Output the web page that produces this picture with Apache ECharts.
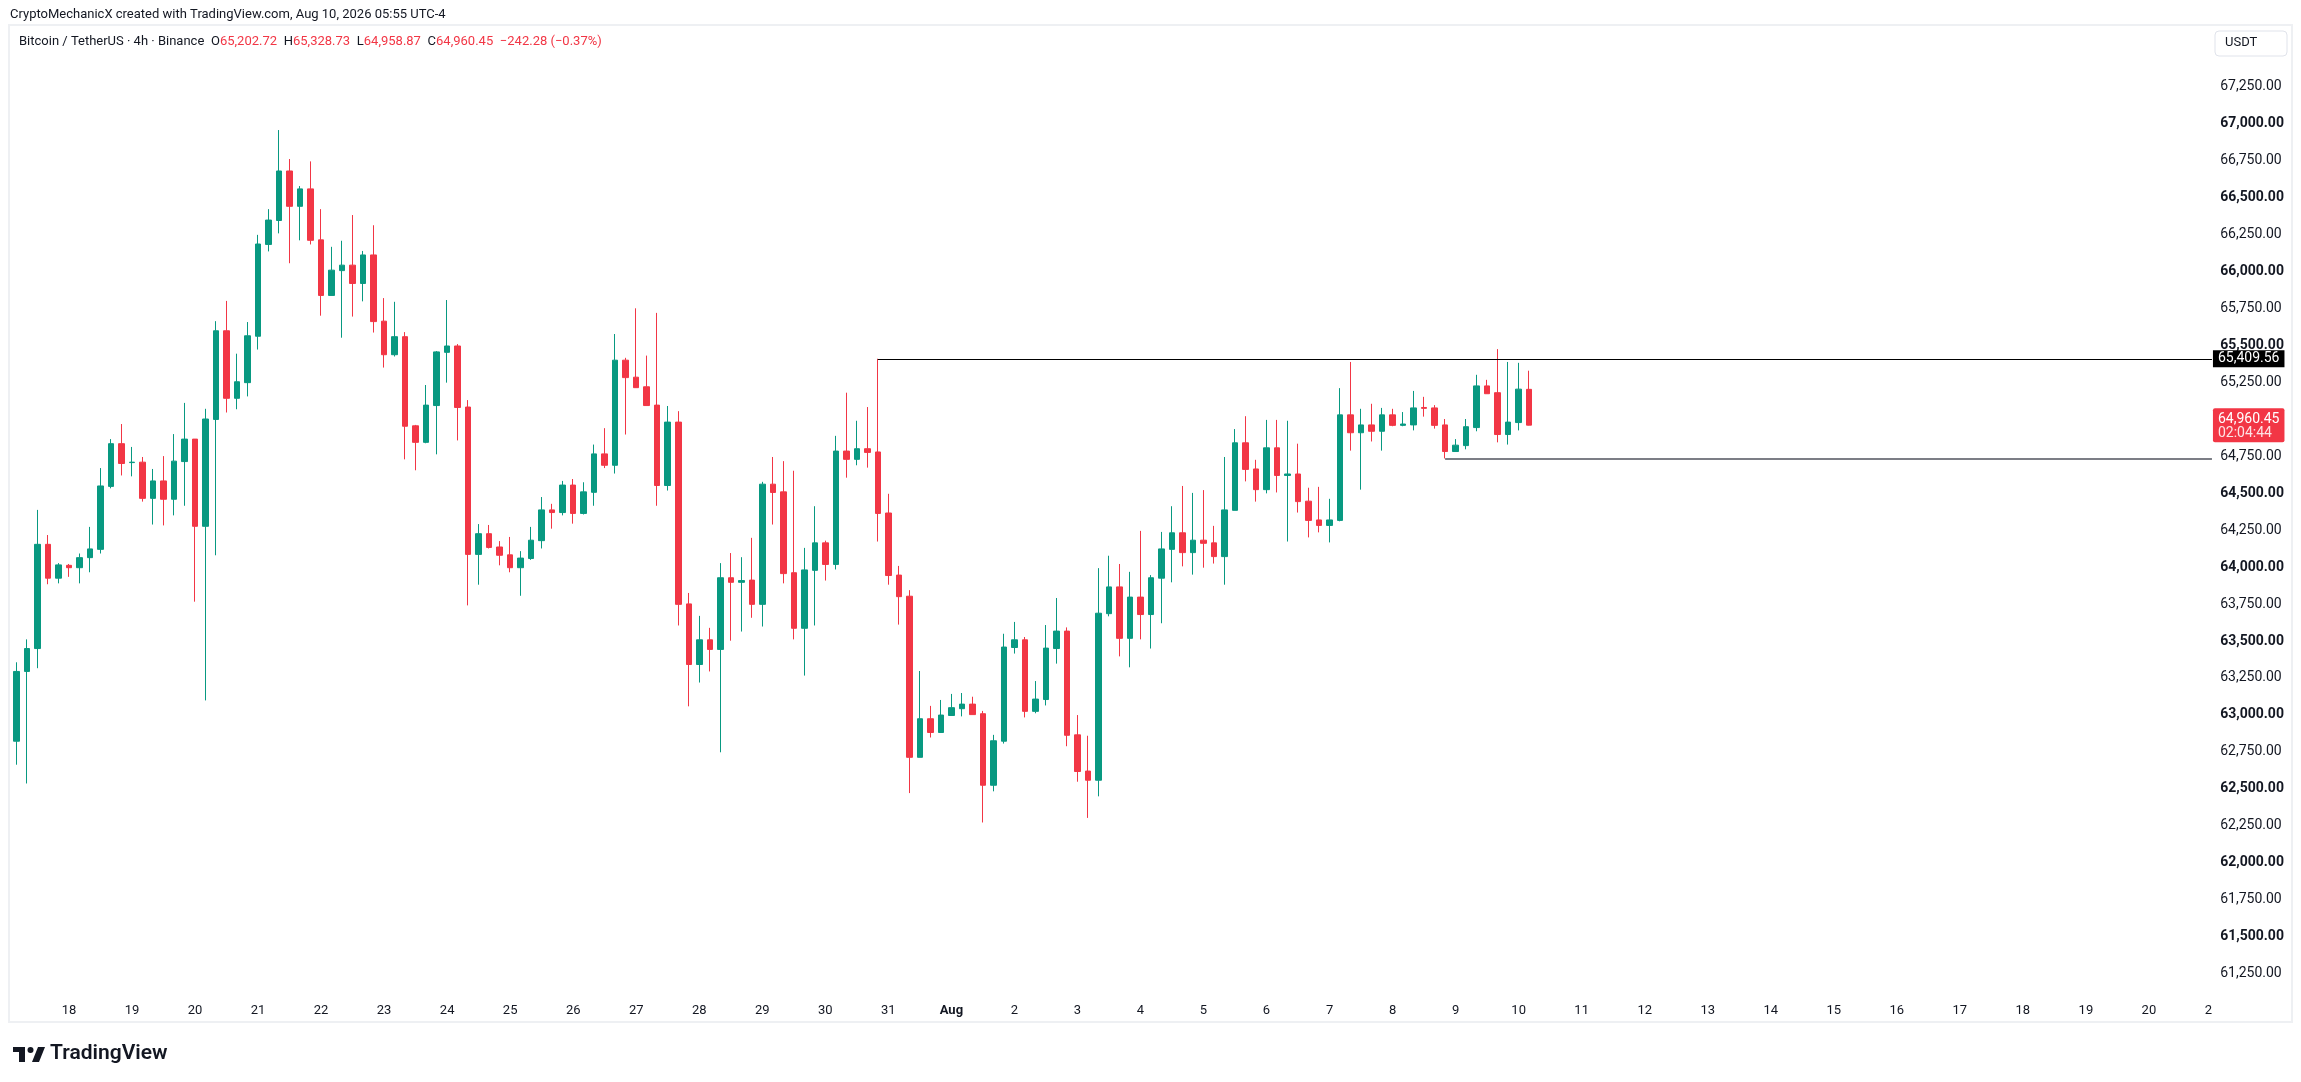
<!DOCTYPE html>
<html><head><meta charset="utf-8">
<script src="https://cdn.jsdelivr.net/npm/echarts@6/dist/echarts.min.js"></script>
<style>html,body{margin:0;padding:0;background:#fff}#c{width:2301px;height:1082px}</style>
</head><body><div id="c"></div>
<script>
// ---- time slots (4h candles, UTC-4) ----
const julyDays = [17,18,19,20,21,22,23,24,25,26,27,28,29,30,31];
const augDays = [1,2,3,4,5,6,7,8,9,10,11,12,13,14,15,16,17,18,19,20,21];
const hours = ['00:00','04:00','08:00','12:00','16:00','20:00'];

// ---- OHLC values (Jul 17 04:00 .. Aug 10 04:00) ----
const opens = [62822,63294,63449,64154,63925,64012,63996,64064,64120,64546,64835,64707,64710,64465,64583,64459,64714,64866,64276,64999,65599,65142,65248,65562,66183,66345,66680,66441,66559,66214,65838,66006,66043,65919,66112,65664,65437,65559,64956,64844,65093,65453,65496,65083,64086,64226,64136,64083,63996,64058,64179,64387,64369,64555,64363,64506,64766,64689,65400,65285,65220,65096,64552,64981,63751,63341,63508,63443,63928,63897,63912,63748,64561,64509,63962,63586,63978,64164,64018,64785,64729,64801,64779,64366,63946,63803,62713,62974,62881,62996,63042,63073,63008,62524,62822,63456,63508,63024,63104,63449,63567,62865,62620,62558,63685,63866,63518,63797,63679,63925,64120,64232,64098,64182,64164,64071,64384,64841,64664,64524,64807,64620,64630,64446,64319,64282,64316,65030,64909,64962,64919,65030,64959,64962,65080,65077,64962,64782,64822,64944,65226,65180,64897,64978,65202.72];
const closes = [63294,63449,64154,63925,64015,63996,64064,64123,64549,64835,64701,64710,64465,64583,64459,64717,64866,64276,65002,65599,65142,65254,65565,66186,66348,66680,66441,66559,66211,65838,66009,66043,65919,66112,65661,65437,65559,64953,64844,65096,65456,65496,65080,64086,64226,64133,64080,63996,64061,64182,64387,64369,64555,64363,64509,64766,64689,65400,65282,65214,65093,64552,64981,63748,63341,63508,63443,63928,63897,63909,63748,64561,64505,63956,63586,63981,64164,64018,64785,64729,64801,64776,64363,63943,63800,62713,62974,62881,62999,63049,63073,63002,62524,62825,63459,63508,63024,63107,63452,63567,62862,62617,62558,63688,63866,63518,63797,63679,63928,64123,64232,64098,64182,64161,64071,64387,64841,64661,64524,64807,64620,64630,64443,64316,64282,64319,65030,64909,64962,64919,65030,64959,64968,65077,65074,64959,64782,64825,64950,65226,65173,64897,64981,65204,64960.45];
const lows = [62663,62536,63316,63884,63890,63934,63890,63965,64092,64533,64620,64614,64443,64288,64282,64350,64415,63766,63098,64080,65046,65068,65155,65472,66136,66258,66056,66211,66183,65701,65838,65552,65695,65798,65587,65350,65425,64729,64655,64838,64763,65248,64857,63741,63881,64126,64012,63965,63806,64049,64126,64260,64350,64294,64356,64415,64670,64633,64897,65214,65093,64415,64518,63605,63058,63219,63294,62747,63502,63564,63657,63598,64288,63890,63511,63266,63605,63909,63984,64605,64689,64673,64173,63881,63611,62471,62713,62847,62881,62996,62990,63002,62272,62483,62806,63415,62983,63011,63064,63347,62788,62548,62303,62449,63667,63396,63322,63511,63449,63620,63897,64005,63949,63996,64024,63881,64384,64580,64443,64499,64505,64173,64369,64201,64235,64167,64310,64788,64524,64850,64788,64953,64953,64925,65018,64937,64735,64782,64797,64919,65173,64844,64829,64925,64958.87];
const highs = [63356,63511,64387,64217,64027,64021,64092,64272,64670,64866,64968,64813,64745,64664,64751,64900,65111,64866,65071,65664,65801,65444,65658,66248,66422,66957,66761,66578,66745,66422,66167,66208,66382,66139,66313,65820,65795,65590,64962,65232,65462,65807,65509,65130,64291,64285,64176,64204,64108,64272,64474,64428,64583,64596,64574,64829,64940,65577,65416,65751,65431,65720,65090,65055,63825,63670,63589,64027,64095,64067,64198,64577,64745,64717,64652,64130,64412,64179,64888,65180,64990,65083,65409.56,64496,64008,63844,63297,63061,63101,63142,63148,63123,63027,62865,63549,63629,63527,63229,63608,63791,63592,62999,62859,63993,64077,64021,63968,64245,63946,64238,64412,64549,64502,64521,64279,64745,64934,65021,64726,64996,64996,64990,64835,64537,64543,64462,65211,65388,65071,65105,65077,65071,65049,65192,65152,65096,65002,64866,65002,65301,65267,65475,65388,65382,65328.73];

// ---- drawn levels ----
const resistance = { startIndex: 82, price: 65409.56 };
const support = { startIndex: 136, price: 64735 };
const lastPrice = { index: 144, price: 64960.45, countdown: '02:04:44' };

// ---- y-axis ticks ----
const yMin = 61000, yMax = 67500, yStep = 250;

const UP = '#089981', DOWN = '#f23645', INK = '#131722';
const FONT = 'Roboto, "Liberation Sans", Arial, sans-serif';

const categories = [];
julyDays.forEach(d => hours.forEach(h => categories.push('Jul ' + d + ' ' + h)));
augDays.forEach(d => hours.forEach(h => categories.push('Aug ' + d + ' ' + h)));
categories.shift();                       // series starts Jul 17 04:00
categories.splice(categories.indexOf('Aug 21 00:00') + 1); // time scale ends at Aug 21

const ohlc = opens.map((o, i) => [o, closes[i], lows[i], highs[i]]);
const lastCat = categories[categories.length - 1];

function fmt(v) {
  return v.toLocaleString('en-US', { minimumFractionDigits: 2, maximumFractionDigits: 2 });
}

const chart = echarts.init(document.getElementById('c'), null, { renderer: 'canvas' });
chart.setOption({
  animation: false,
  backgroundColor: '#ffffff',
  textStyle: { fontFamily: FONT },
  grid: { left: 11.2, top: 49.8, width: 2206, bottom: 71.5, containLabel: false },
  xAxis: {
    type: 'category',
    data: categories,
    boundaryGap: true,
    axisLine: { show: false },
    axisTick: { show: false },
    splitLine: { show: false },
    axisLabel: {
      interval: (idx, val) => val.endsWith('00:00'),
      margin: 0,
      verticalAlign: 'middle',
      color: INK,
      fontSize: 13,
      fontFamily: FONT,
      formatter: val => {
        const p = val.split(' ');
        if (p[0] === 'Aug' && p[1] === '1') return '{b|Aug}';
        return p[1];
      },
      rich: { b: { fontWeight: 'bold', fontSize: 13, color: INK, fontFamily: FONT } }
    }
  },
  yAxis: {
    type: 'value',
    position: 'right',
    min: yMin, max: yMax, interval: yStep,
    scale: true,
    axisLine: { show: false },
    axisTick: { show: false },
    splitLine: { show: false },
    axisLabel: {
      showMinLabel: false, showMaxLabel: false,
      margin: 3,
      align: 'left',
      formatter: v => (v % 500 === 0 ? '{b|' + fmt(v) + '}' : '{n|' + fmt(v) + '}'),
      rich: {
        b: { fontWeight: 'bold', fontSize: 14, color: INK, fontFamily: FONT },
        n: { fontSize: 14, color: INK, fontFamily: FONT }
      }
    }
  },
  series: [{
    type: 'candlestick',
    data: ohlc,
    barWidth: 6,
    itemStyle: { color: UP, color0: DOWN, borderColor: UP, borderColor0: DOWN, borderWidth: 1 },
    markLine: {
      silent: true,
      animation: false,
      symbol: ['none', 'none'],
      data: [
        [
          { coord: [categories[resistance.startIndex], resistance.price],
            lineStyle: { color: '#000000', width: 1.2, type: 'solid' },
            label: { show: true, position: 'end', distance: 1, formatter: fmt(resistance.price),
              backgroundColor: '#000000', color: '#ffffff', fontSize: 14, fontFamily: FONT,
              padding: [2, 5, 1, 5], lineHeight: 14 } },
          { coord: [lastCat, resistance.price] }
        ],
        [
          { coord: [categories[support.startIndex], support.price],
            lineStyle: { color: '#50535e', width: 1.5, type: 'solid' },
            label: { show: false } },
          { coord: [lastCat, support.price] }
        ],
        [
          { coord: [categories[lastPrice.index], lastPrice.price],
            lineStyle: { color: 'rgba(255,255,255,0)', width: 1, type: 'solid' },
            label: { show: true, position: 'end', distance: 1,
              formatter: '{p|' + fmt(lastPrice.price) + '}\n{t|' + lastPrice.countdown + '}',
              backgroundColor: DOWN, borderRadius: 2, padding: [4, 5, 2, 5],
              rich: {
                p: { color: '#ffffff', fontSize: 14, lineHeight: 14, fontFamily: FONT },
                t: { color: '#fde3e5', fontSize: 14, lineHeight: 14, fontFamily: FONT }
              } } },
          { coord: [lastCat, lastPrice.price] }
        ]
      ]
    }
  }],
  graphic: [
    { type: 'rect', z: 0, silent: true,
      shape: { x: 9, y: 25, width: 2283, height: 997 },
      style: { fill: 'none', stroke: '#eef0f3', lineWidth: 2 } },
    { type: 'rect', z: 50, silent: true,
      shape: { x: 2212.5, y: 997, width: 78, height: 23 },
      style: { fill: '#ffffff' } },
    { type: 'text', z: 60, left: 10, top: 8,
      style: { text: 'CryptoMechanicX created with TradingView.com, Aug 10, 2026 05:55 UTC-4',
        fill: INK, font: '13px ' + FONT } },
    { type: 'text', z: 60, left: 19, top: 35,
      style: {
        text: '{t|Bitcoin / TetherUS · 4h · Binance}  {k|O}{v|' + fmt(opens[144]) + '}  {k|H}{v|' + fmt(highs[144]) +
              '}  {k|L}{v|' + fmt(lows[144]) + '}  {k|C}{v|' + fmt(closes[144]) + '}  {v|−242.28 (−0.37%)}',
        rich: {
          t: { fill: INK, fontSize: 13, fontFamily: FONT },
          k: { fill: INK, fontSize: 13, fontFamily: FONT },
          v: { fill: DOWN, fontSize: 13, fontFamily: FONT }
        }
      } },
    { type: 'rect', z: 60, silent: true,
      shape: { x: 2215, y: 31, width: 72, height: 25, r: 4 },
      style: { fill: '#ffffff', stroke: '#e0e3eb', lineWidth: 1 } },
    { type: 'text', z: 61, left: 2225, top: 36,
      style: { text: 'USDT', fill: INK, font: '13px ' + FONT } },
    // TradingView logo
    { type: 'group', z: 60, children: [
      { type: 'rect', shape: { x: 13, y: 1047, width: 12, height: 5 }, style: { fill: INK } },
      { type: 'rect', shape: { x: 19, y: 1047, width: 6, height: 15 }, style: { fill: INK } },
      { type: 'circle', shape: { cx: 30.5, cy: 1050, r: 3 }, style: { fill: INK } },
      { type: 'polygon', shape: { points: [[32, 1062], [38, 1047], [45, 1047], [39, 1062]] }, style: { fill: INK } },
      { type: 'text', left: 50, top: 1043,
        style: { text: 'TradingView', fill: INK, font: '600 21px ' + FONT } }
    ] }
  ]
});
</script>
</body></html>
